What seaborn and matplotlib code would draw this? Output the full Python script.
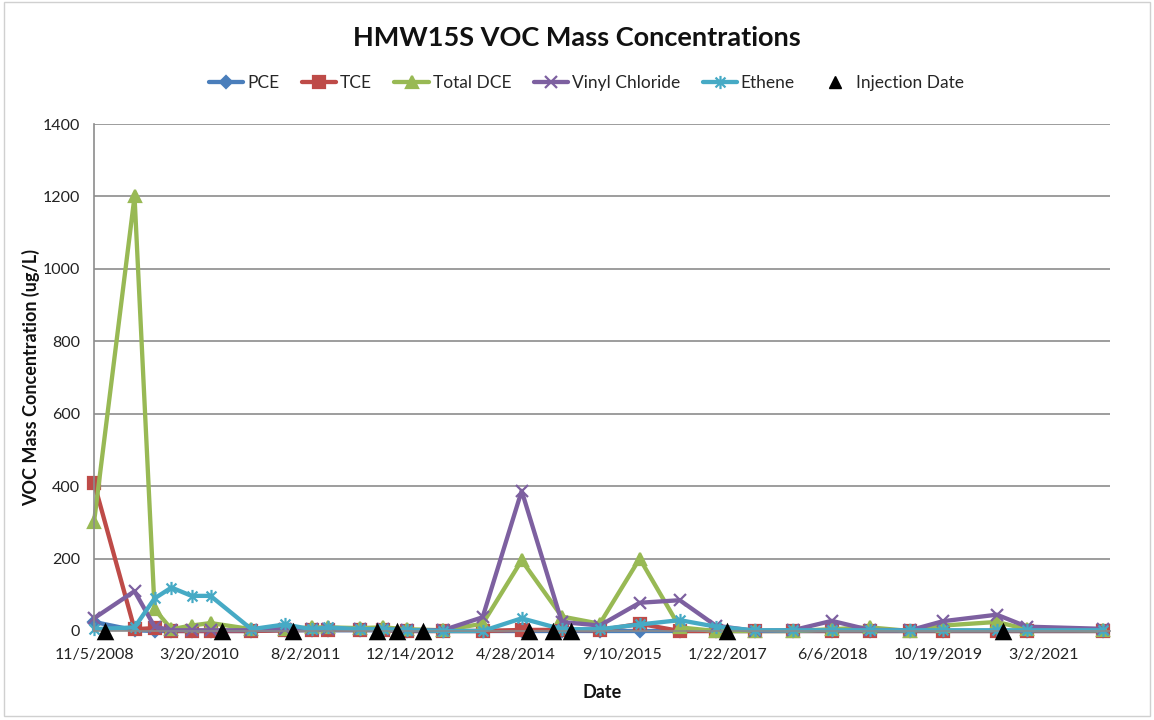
import numpy as np
import pandas as pd
import matplotlib
matplotlib.use("Agg")
import matplotlib.pyplot as plt
import matplotlib.dates as mdates
from matplotlib.lines import Line2D
from matplotlib.patches import Rectangle
from matplotlib.path import Path
import seaborn as sns

# ---------------- data ----------------
sample_dates = [
    "2008-11-05", "2009-05-16", "2009-08-19", "2009-11-07", "2010-02-10",
    "2010-05-11", "2010-11-21", "2011-04-27", "2011-09-02", "2011-11-17",
    "2012-04-16", "2012-08-03", "2012-11-25", "2013-05-15", "2013-11-20",
    "2014-05-24", "2014-11-30", "2015-05-29", "2015-12-04", "2016-06-11",
    "2016-11-28", "2017-06-01", "2017-11-28", "2018-06-01", "2018-11-28",
    "2019-06-06", "2019-11-09", "2020-07-22", "2020-12-11", "2021-12-07",
]
pce = [25, 2, 0, 0, 0, 0, 0, 2, 2, 2, 2, 2, 0, 0, 0,
       0, 0, 0, 0, 0, 0, 0, 0, 0, 0, 0, 0, 0, 0, 0]
tce = [410, 5, 8, 0, 0, 0, 0, 2, 3, 3, 3, 3, 0, 0, 0,
       3, 3, 2, 20, 0, 0, 0, 0, 0, 0, 0, 0, 0, 0, 0]
total_dce = [300, 1200, 60, 5, 15, 22, 5, 5, 10, 10, 8, 10, 5, 2, 20,
             195, 40, 20, 200, 10, 0, 0, 0, 5, 10, 0, 15, 25, 5, 2]
vinyl_chloride = [35, 110, 12, 2, 2, 2, 2, 5, 5, 5, 5, 5, 2, 2, 38,
                  387, 25, 15, 78, 85, 15, 0, 2, 28, 3, 2, 27, 45, 12, 6]
ethene = [5, 10, 90, 120, 97, 97, 5, 18, 5, 10, 5, 5, 3, 0, 0,
          35, 5, 5, 18, 30, 12, 2, 2, 2, 2, 2, 2, 2, 2, 2]
injection_dates = [
    "2008-12-29", "2010-07-02", "2011-06-04", "2012-07-06", "2012-10-09",
    "2013-02-09", "2014-06-26", "2014-10-18", "2015-01-11", "2017-01-20",
    "2020-08-20",
]
series_names = ["PCE", "TCE", "Total DCE", "Vinyl Chloride", "Ethene"]
title_text = "HMW15S VOC Mass Concentrations"
y_ticks = [0, 200, 400, 600, 800, 1000, 1200, 1400]

# ---------------- styling ----------------
sns.set_theme(style="white")
plt.rcParams["font.family"] = ["Lato", "DejaVu Sans"]

dates = pd.to_datetime(sample_dates)
inj = pd.to_datetime(injection_dates)

star_path = Path(
    [(0, -1), (0, 1), (-0.75, -0.75), (0.75, 0.75), (-0.75, 0.75), (0.75, -0.75)],
    [Path.MOVETO, Path.LINETO] * 3,
)

colors = ["#4A7EBB", "#BE4B48", "#98B954", "#7D60A0", "#46AAC5"]
markers = ["D", "s", "^", "x", star_path]
msizes = [6.5, 8, 8.5, 8.5, 9.5]
values = [pce, tce, total_dce, vinyl_chloride, ethene]
LW = 3.1

fig = plt.figure(figsize=(11.54, 7.2), dpi=100)
ax = fig.add_axes([94 / 1154, 1 - 631 / 720, (1110 - 94) / 1154, (631 - 124) / 720])

for name, vals, c, m, ms in zip(series_names, values, colors, markers, msizes):
    sns.lineplot(x=dates, y=vals, ax=ax, color=c, marker=m, markersize=ms,
                 linewidth=LW, markeredgecolor=c, markeredgewidth=1.6,
                 estimator=None, legend=False, clip_on=False)

sns.scatterplot(x=inj, y=[0] * len(inj), ax=ax, marker="^", color="black",
                s=160, edgecolor="black", linewidth=0, zorder=5, clip_on=False,
                legend=False)

# axes
ax.set_ylim(0, 1400)
ax.set_yticks(y_ticks)
x0 = pd.Timestamp("2008-11-05")
ax.set_xlim(x0, x0 + pd.Timedelta(days=4813))
xt = [x0 + pd.Timedelta(days=500 * i) for i in range(10)]
ax.set_xticks(xt)
ax.set_xticklabels([f"{d.month}/{d.day}/{d.year}" for d in xt])

ax.yaxis.grid(True, color="#8C8C8C", linewidth=1.2)
ax.xaxis.grid(False)
for s in ["top", "right"]:
    ax.spines[s].set_visible(False)
for s in ["left", "bottom"]:
    ax.spines[s].set_color("#8C8C8C")
    ax.spines[s].set_linewidth(1.2)
ax.tick_params(axis="x", labelsize=11.5, colors="#222222", length=4,
               direction="out", color="#8C8C8C", pad=8)
ax.tick_params(axis="y", labelsize=11.5, colors="#222222", length=0, pad=10)

ax.set_xlabel("Date", fontsize=13, fontweight="bold", labelpad=16, color="#111111")
ax.set_ylabel("VOC Mass Concentration (ug/L)", fontsize=13, fontweight="bold",
              color="#111111")
ax.yaxis.set_label_coords(-0.053, 0.5)

fig.text(0.5, 1 - 38 / 720, title_text, ha="center", va="center",
         fontsize=19.5, fontweight="bold", color="#111111")

handles = []
for name, c, m, ms in zip(series_names, colors, markers, msizes):
    handles.append(Line2D([], [], color=c, marker=m, markersize=ms, linewidth=LW,
                          markeredgecolor=c, markeredgewidth=1.6, label=name))
handles.append(Line2D([], [], color="black", marker="^", linestyle="none",
                      markersize=9, label="Injection Date"))
fig.legend(handles=handles, loc="center", bbox_to_anchor=(0.508, 1 - 83 / 720),
           ncol=6, frameon=False, fontsize=12.5, handlelength=2.0,
           handletextpad=0.2, columnspacing=1.3)

fig.patches.append(Rectangle((4 / 1154, 4 / 720), 1146 / 1154, 714 / 720,
                             transform=fig.transFigure, fill=False,
                             edgecolor="#D0D0D0", linewidth=1))

fig.savefig("out.png", dpi=100)
